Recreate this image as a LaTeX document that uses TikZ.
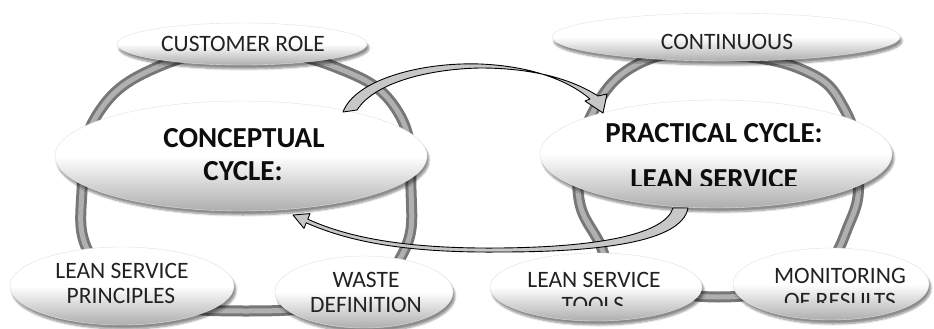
\documentclass[tikz,border=0pt]{standalone}
\usepackage{fontspec}
\setmainfont{Carlito}
\usetikzlibrary{shapes.geometric,shadows.blur}
\definecolor{ink}{HTML}{222222}
\definecolor{tubeedge}{HTML}{777777}
\definecolor{tubecore}{HTML}{B0B0B0}
\tikzset{
  bubble/.style={ellipse, inner sep=0pt, draw=black!12, line width=0.4pt,
    top color=white, bottom color=black!32, middle color=white,
    blur shadow={shadow xshift=2pt, shadow yshift=-4pt,
      shadow blur steps=8, shadow opacity=45}},
  tube/.style={line width=3pt, draw=tubeedge, double=tubecore, double distance=5pt},
  lbl/.style={anchor=base, inner sep=0pt, text=ink,
    font=\fontsize{23.5}{25}\selectfont},
  hdr/.style={anchor=base, inner sep=0pt, text=black!95,
    font=\fontsize{29}{33}\selectfont\bfseries},
  flow/.style={draw=black, line width=0.9pt, fill=black!22, line join=round},
}
\begin{document}
\begin{tikzpicture}[x=1pt, y=-1pt]
\useasboundingbox (0,0) rectangle (934,329);

% the two cycle rings
\draw[tube] plot[smooth cycle, tension=0.75] coordinates {
  (246,52) (335,67) (398,112) (411,190) (402,255) (352,298)
  (246,311) (140,298) (90,255) (82,190) (97,115) (160,66)};
\draw[tube] plot[smooth cycle, tension=0.75] coordinates {
  (718,55) (803,70) (845,110) (858,170) (850,222) (812,275)
  (718,297) (625,275) (598,240) (578,190) (590,118) (640,63)};

% conceptual cycle
\node[bubble, minimum width=250, minimum height=42] (cust) at (242,44) {};
\node[bubble, minimum width=372, minimum height=110] (conc) at (241,156) {};
\node[bubble, minimum width=224, minimum height=78] (princ) at (122,286) {};
\node[bubble, minimum width=178, minimum height=72] (waste) at (364,292) {};

% practical cycle
\node[bubble, minimum width=348, minimum height=48] (cont) at (726,37) {};
\node[bubble, minimum width=352, minimum height=108] (prac) at (716,154) {};
\node[bubble, minimum width=212, minimum height=68] (tools) at (596,287) {};
\node[bubble, minimum width=196, minimum height=72] (monit) at (831,284) {};

% labels
\node[lbl] (custT) at (243,52) {CUSTOMER ROLE};
\node[hdr] (concA) at (244,147) {CONCEPTUAL};
\node[hdr] (concB) at (243,180) {CYCLE:};
\node[lbl] (princA) at (122,278) {LEAN SERVICE};
\node[lbl] (princB) at (121,303) {PRINCIPLES};
\node[lbl] (wasteA) at (366,287) {WASTE};
\node[lbl] (wasteB) at (366,312) {DEFINITION};
\node[lbl] (contT) at (727,50) {CONTINUOUS};
\node[hdr] (pracA) at (714,142) {PRACTICAL CYCLE:};
\begin{scope}
  \clip (0,0) rectangle (934,185);
  \node[hdr] (pracB) at (714,188) {LEAN SERVICE};
\end{scope}
\node[lbl] (toolsA) at (594,287) {LEAN SERVICE};
\begin{scope}
  \clip (0,0) rectangle (934,305);
  \node[lbl] (toolsB) at (593,312) {TOOLS};
\end{scope}
\node[lbl] (monitA) at (840,283) {MONITORING};
\begin{scope}
  \clip (0,0) rectangle (934,302);
  \node[lbl] (monitB) at (840,308) {OF RESULTS};
\end{scope}

% curved block arrows between the two cycles
\coordinate (goTail) at (350,111);
\coordinate (goTip) at (603,113);
\coordinate (backTail) at (680,208);
\coordinate (backTip) at (293,215);
\draw[flow] (343,112) .. controls (355,80) and (420,62) .. (480,64)
  .. controls (530,66) and (568,80) .. (590,99) -- (585,101) -- (goTip)
  -- (607,94) -- (598,96) .. controls (570,78) and (530,68) .. (480,68)
  .. controls (430,69) and (375,82) .. (357,110) -- cycle;
\draw[flow] (673,208) .. controls (665,234) and (600,247) .. (500,248)
  .. controls (400,249) and (345,236) .. (307.8,219.2) -- (310,213.6)
  -- (backTip) -- (304,228.4) -- (306.2,222.8)
  .. controls (345,240) and (400,253) .. (500,252)
  .. controls (600,252) and (682,242) .. (688,208) -- cycle;
\end{tikzpicture}
\end{document}
